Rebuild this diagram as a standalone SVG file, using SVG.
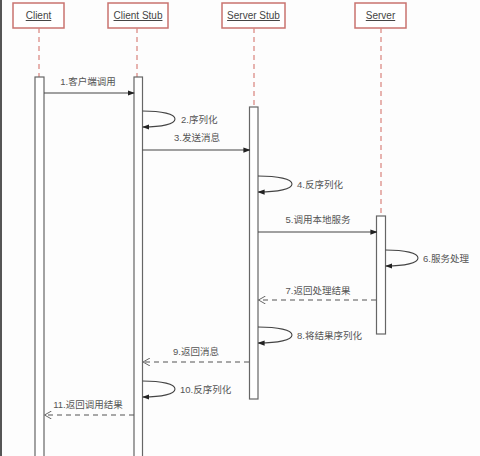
<svg xmlns="http://www.w3.org/2000/svg" width="480" height="456" viewBox="0 0 480 456">
<defs>
<style>
.box{fill:#fff;stroke:#c9736f;stroke-width:1.5}
.name{font-family:"Liberation Sans","Noto Sans CJK SC",sans-serif;font-size:10px;fill:#444;text-anchor:middle;text-decoration:underline}
.life{stroke:#d9837c;stroke-width:1.2;stroke-dasharray:5,4;fill:none}
.act{fill:#fff;stroke:#666;stroke-width:1.2}
.msg{stroke:#444;stroke-width:1.1;fill:none}
.ret{stroke:#555;stroke-width:1.1;fill:none;stroke-dasharray:5,4}
.lbl{font-family:"Liberation Sans","Noto Sans CJK SC",sans-serif;font-size:9.5px;fill:#555}
.c{text-anchor:middle}
</style>
<marker id="fa" viewBox="0 0 8 8" refX="7" refY="4" markerWidth="7" markerHeight="7" orient="auto" markerUnits="userSpaceOnUse">
<path d="M0,1 L8,4 L0,7 Z" fill="#222"/>
</marker>
<marker id="oa" viewBox="0 0 8 8" refX="7" refY="4" markerWidth="8" markerHeight="8" orient="auto" markerUnits="userSpaceOnUse">
<path d="M0,0 L7,4 L0,8" fill="none" stroke="#666" stroke-width="1"/>
</marker>
</defs>
<rect width="480" height="456" fill="#fdfdfd"/>
<line x1="1" y1="0" x2="1" y2="456" stroke="#555" stroke-width="2"/>

<g id="client">
<rect class="box" x="13" y="3" width="51" height="25"/>
<text class="name" x="38.5" y="19">Client</text>
<line class="life" x1="39" y1="28" x2="39" y2="77"/>
<rect class="act" x="35" y="77" width="9" height="385"/>
</g>
<g id="client-stub">
<rect class="box" x="108" y="3" width="60" height="25"/>
<text class="name" x="138" y="19">Client Stub</text>
<line class="life" x1="137" y1="28" x2="137" y2="77"/>
<rect class="act" x="134" y="77" width="8.5" height="385"/>
</g>
<g id="server-stub">
<rect class="box" x="222" y="3" width="63" height="25"/>
<text class="name" x="253.5" y="19">Server Stub</text>
<line class="life" x1="254" y1="28" x2="254" y2="107"/>
<rect class="act" x="249.5" y="107" width="8.5" height="292"/>
</g>
<g id="server">
<rect class="box" x="355" y="3" width="51" height="25"/>
<text class="name" x="380.5" y="19">Server</text>
<line class="life" x1="381" y1="28" x2="381" y2="216"/>
<rect class="act" x="376.5" y="216" width="9" height="118"/>
</g>

<g id="connectors">
<line class="msg" x1="44" y1="93" x2="134" y2="93" marker-end="url(#fa)"/>
<path class="msg" d="M142.5,111 C162,111 175,114 175,119 C175,124 162,127 143,127" marker-end="url(#fa)"/>
<line class="msg" x1="142.5" y1="150" x2="249.5" y2="150" marker-end="url(#fa)"/>
<path class="msg" d="M258,176 C278,176 292,179 292,184 C292,189 278,192 258.5,192" marker-end="url(#fa)"/>
<line class="msg" x1="258" y1="232" x2="376.5" y2="232" marker-end="url(#fa)"/>
<path class="msg" d="M385.5,250 C405,250 418,253 418,258 C418,263 405,266 386,266" marker-end="url(#fa)"/>
<line class="ret" x1="376" y1="300" x2="258.5" y2="300" marker-end="url(#oa)"/>
<path class="msg" d="M258,327 C278,327 292,330 292,335 C292,340 278,343 258.5,343" marker-end="url(#fa)"/>
<line class="ret" x1="249" y1="362" x2="143" y2="362" marker-end="url(#oa)"/>
<path class="msg" d="M142.5,381 C162,381 175,384 175,389 C175,394 162,397 143,397" marker-end="url(#fa)"/>
<line class="ret" x1="134" y1="415" x2="44.5" y2="415" marker-end="url(#oa)"/>
</g>

<g id="labels">
<text class="lbl c" x="88" y="85">1.客户端调用</text>
<text class="lbl" x="181" y="123">2.序列化</text>
<text class="lbl c" x="197" y="141">3.发送消息</text>
<text class="lbl" x="297" y="188">4.反序列化</text>
<text class="lbl c" x="318" y="223">5.调用本地服务</text>
<text class="lbl" x="423" y="262">6.服务处理</text>
<text class="lbl c" x="318" y="294">7.返回处理结果</text>
<text class="lbl" x="297" y="339">8.将结果序列化</text>
<text class="lbl c" x="196" y="355">9.返回消息</text>
<text class="lbl" x="180" y="393">10.反序列化</text>
<text class="lbl c" x="88" y="408">11.返回调用结果</text>
</g>
</svg>
